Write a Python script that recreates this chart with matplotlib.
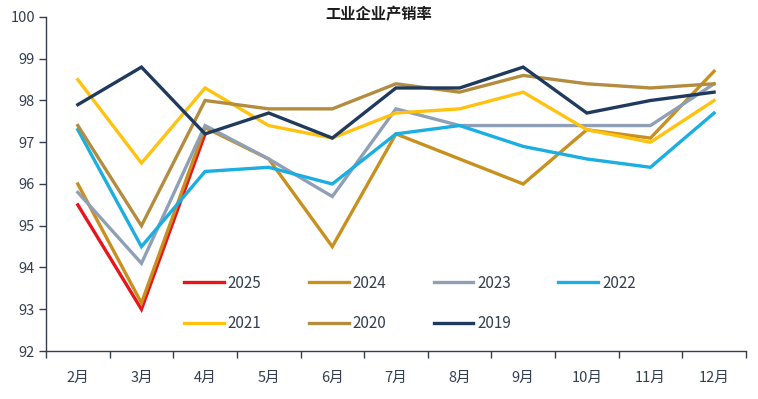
import matplotlib.pyplot as plt
import numpy as np

plt.rcParams['font.family'] = ['Noto Sans CJK SC', 'DejaVu Sans']

months = ['2月', '3月', '4月', '5月', '6月', '7月', '8月', '9月', '10月', '11月', '12月']
years = ['2025', '2024', '2023', '2022', '2021', '2020', '2019']

v2025 = [95.5, 93.0, 97.2]
v2024 = [96.0, 93.15, 97.35, 96.6, 94.5, 97.2, 96.6, 96.0, 97.3, 97.1, 98.7]
v2023 = [95.8, 94.1, 97.4, 96.6, 95.7, 97.8, 97.4, 97.4, 97.4, 97.4, 98.4]
v2022 = [97.3, 94.5, 96.3, 96.4, 96.0, 97.2, 97.4, 96.9, 96.6, 96.4, 97.7]
v2021 = [98.5, 96.5, 98.3, 97.4, 97.1, 97.7, 97.8, 98.2, 97.3, 97.0, 98.0]
v2020 = [97.4, 95.0, 98.0, 97.8, 97.8, 98.4, 98.2, 98.6, 98.4, 98.3, 98.4]
v2019 = [97.9, 98.8, 97.2, 97.7, 97.1, 98.3, 98.3, 98.8, 97.7, 98.0, 98.2]

series = [v2025, v2024, v2023, v2022, v2021, v2020, v2019]
colors = ['#E8141B', '#C8901E', '#8FA0B6', '#1BAEE2', '#FFC20E', '#B38C3F', '#1F3A5C']

txt = '#333F50'

fig = plt.figure(figsize=(7.58, 3.99), dpi=100)
ax = fig.add_axes([0.0607, 0.1203, 0.9233, 0.8371])

lines = {}
for name, vals, c in zip(years, series, colors):
    lines[name], = ax.plot(np.arange(len(vals)), vals, color=c, lw=2.4, label=name,
                           solid_joinstyle='miter')

ax.set_xlim(-0.5, len(months) - 0.5)
ax.set_ylim(92, 100)
ax.set_yticks(np.arange(92, 101, 1))

# ticks at category boundaries, labels at centers
ax.set_xticks(np.arange(-0.5, len(months), 1))
ax.set_xticklabels([])
ax.set_xticks(np.arange(len(months)), minor=True)
ax.set_xticklabels(months, minor=True)
ax.tick_params(axis='x', which='major', length=5, color=txt, width=1)
ax.tick_params(axis='x', which='minor', length=0, pad=14, labelsize=10.5, labelcolor=txt)
ax.tick_params(axis='y', length=5, color=txt, width=1, labelsize=10.5, labelcolor=txt, pad=3)

ax.spines.top.set(visible=False)
ax.spines.right.set(visible=False)
ax.spines.left.set(color=txt, lw=1)
ax.spines.bottom.set(color=txt, lw=1)

fig.suptitle('工业企业产销率', x=0.5, y=0.985, fontsize=11, fontweight='bold', color='#1a1a1a')

# legend fills by column, so order it to read row by row
order = ['2025', '2021', '2024', '2020', '2023', '2019', '2022']
ax.legend([lines[k] for k in order], order, ncol=4, loc='lower left',
          bbox_to_anchor=(0.178, 0.015), frameon=False,
          fontsize=11, labelcolor=txt, handlelength=2.6, handletextpad=0.25,
          columnspacing=3.1, labelspacing=1.55)

fig.savefig('out.png', dpi=100)
